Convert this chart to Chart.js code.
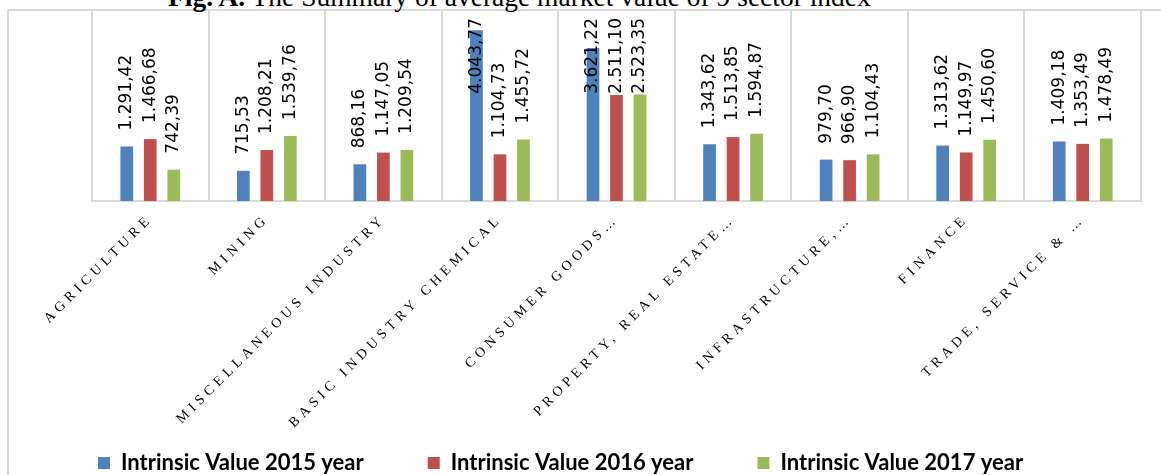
<!DOCTYPE html>
<html>
<head>
<meta charset="utf-8">
<script src="https://cdn.jsdelivr.net/npm/chart.js@4.4.0/dist/chart.umd.min.js"></script>
<style>
  html, body { margin: 0; padding: 0; background: #fff; overflow: hidden; }
  #wrap { position: relative; width: 1161px; height: 475px; overflow: hidden; }
  #frame { position: absolute; left: 7px; top: 9px; width: 1300px; height: 600px;
           border-left: 2px solid #d9d9d9; border-top: 2px solid #d9d9d9; }
  #title { position: absolute; left: 168px; top: -17px; font-family: "Liberation Serif", serif;
           font-size: 27.5px; line-height: 27.5px; color: #000; white-space: nowrap; }
  canvas { position: absolute; left: 0; top: 0; }
</style>
</head>
<body>
<div id="wrap">
  <div id="frame"></div>
  <div id="title"><b>Fig. A.</b> The Summary of average market value of 9 sector index</div>
  <canvas id="chart" width="1161" height="475"></canvas>
</div>
<script>
const sectors = ['AGRICULTURE', 'MINING', 'MISCELLANEOUS INDUSTRY', 'BASIC INDUSTRY CHEMICAL',
  'CONSUMER GOODS…', 'PROPERTY, REAL ESTATE…', 'INFRASTRUCTURE,…', 'FINANCE', 'TRADE, SERVICE & …'];
const value2015 = [1291.42, 715.53, 868.16, 4043.77, 3621.22, 1343.62, 979.70, 1313.62, 1409.18];
const value2016 = [1466.68, 1208.21, 1147.05, 1104.73, 2511.10, 1513.85, 966.90, 1149.97, 1353.49];
const value2017 = [742.39, 1539.76, 1209.54, 1455.72, 2523.35, 1594.87, 1104.43, 1450.60, 1478.49];
const seriesNames = ['Intrinsic Value 2015 year', 'Intrinsic Value 2016 year', 'Intrinsic Value 2017 year'];

// 1291.42 -> "1.291,42"
function fmt(v) {
    const parts = v.toFixed(2).split('.');
    const whole = parts[0].replace(/\B(?=(\d{3})+(?!\d))/g, '.');
    return whole + ',' + parts[1];
}

// vertical value labels above each bar, pushed down when they hit the top
const valueLabels = {
    id: 'valueLabels',
    afterDatasetsDraw(chart) {
        const ctx = chart.ctx;
        ctx.save();
        ctx.font = '17px "DejaVu Sans"';
        ctx.fillStyle = '#000';
        ctx.textAlign = 'left';
        ctx.textBaseline = 'middle';
        chart.data.datasets.forEach((ds, i) => {
            chart.getDatasetMeta(i).data.forEach((bar, j) => {
                const text = fmt(ds.data[j]);
                const len = ctx.measureText(text).width;
                const start = Math.max(bar.y - 16, chart.chartArea.top + 7 + len);
                ctx.save();
                ctx.translate(bar.x, start);
                ctx.rotate(-Math.PI / 2);
                ctx.fillText(text, 0, 0);
                ctx.restore();
            });
        });
        ctx.restore();
    }
};

const ctx = document.getElementById('chart').getContext('2d');
const chart = new Chart(ctx, {
    type: 'bar',
    data: {
        labels: sectors,
        datasets: [
            { label: seriesNames[0], data: value2015, backgroundColor: '#4f81bd' },
            { label: seriesNames[1], data: value2016, backgroundColor: '#c0504d' },
            { label: seriesNames[2], data: value2017, backgroundColor: '#9bbb59' }
        ]
    },
    options: {
        responsive: false,
        animation: false,
        layout: { padding: { left: 34, right: 20, top: 11, bottom: 0 } },
        datasets: { bar: { categoryPercentage: 0.605, barPercentage: 0.54 } },
        plugins: {
            tooltip: { enabled: false },
            legend: {
                position: 'bottom',
                align: 'start',
                maxHeight: 87,
                labels: {
                    boxWidth: 12,
                    boxHeight: 12,
                    padding: 64,
                    color: '#000',
                    font: { family: 'Lato', weight: 'bold', size: 22 }
                }
            }
        },
        scales: {
            x: {
                grid: { offset: true, color: '#d9d9d9', lineWidth: 2, drawTicks: false },
                border: { color: '#d9d9d9', width: 2 },
                ticks: {
                    autoSkip: false,
                    minRotation: 45,
                    maxRotation: 45,
                    padding: 10,
                    color: '#000',
                    font: { family: 'Liberation Serif', size: 14 }
                },
                afterFit: (s) => { s.height = 187; }
            },
            y: {
                min: 0,
                max: 4500,
                ticks: { display: false },
                grid: { display: false },
                border: { display: false },
                afterFit: (s) => { s.width = 58; }
            }
        }
    },
    plugins: [valueLabels]
});

// letter-spaced category labels, like the original; let them run below the axis box
const xScale = chart.scales.x;
const drawLabels = xScale.drawLabels.bind(xScale);
xScale._computeLabelArea = () => undefined;
xScale.drawLabels = function (area) {
    this.ctx.save();
    this.ctx.letterSpacing = '4.5px';
    drawLabels(area);
    this.ctx.restore();
};
chart.draw();
</script>
</body>
</html>
